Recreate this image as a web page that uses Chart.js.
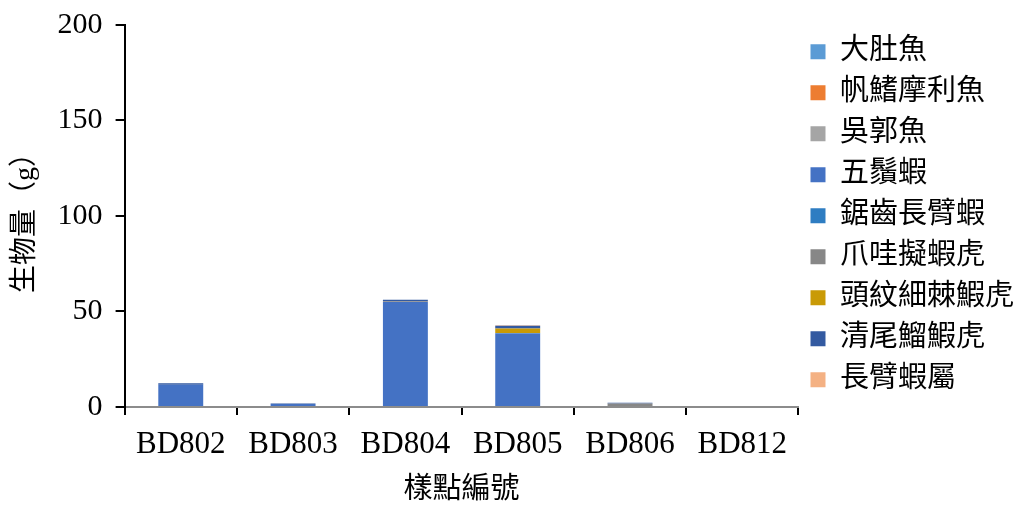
<!DOCTYPE html>
<html>
<head>
<meta charset="utf-8">
<script src="https://cdn.jsdelivr.net/npm/chart.js@4/dist/chart.umd.min.js"></script>
<style>
  html, body { margin: 0; padding: 0; background: #fff; }
  #wrap { width: 1028px; height: 506px; }
</style>
</head>
<body>
<div id="wrap"><canvas id="chart"></canvas></div>
<script>
// 樣點
const sites = ['BD802', 'BD803', 'BD804', 'BD805', 'BD806', 'BD812']

// 各物種生物量 (g)，依堆疊順序由下而上
const dadu = [0, 0, 0, 0, 0, 0]            // 大肚魚
const fanqi = [0, 0, 0, 0, 0, 0]           // 帆鰭摩利魚
const wuguo = [0, 0, 0, 0, 0, 0]           // 吳郭魚
const wuxu = [11.6, 1.5, 55.0, 38.4, 0, 0] // 五鬚蝦
const juchi = [0, 0, 0, 0.3, 0, 0]         // 鋸齒長臂蝦
const zhaowa = [0, 0, 0.3, 0, 1.8, 0]      // 爪哇擬蝦虎
const touwen = [0, 0, 0, 2.4, 0, 0]        // 頭紋細棘鰕虎
const qingwei = [0.8, 0.3, 0.8, 1.4, 0.4, 0] // 清尾鰡鰕虎
const changbi = [0, 0, 0, 0.3, 0, 0]       // 長臂蝦屬

const yTicks = [0, 50, 100, 150, 200]

const series = [
    { label: '大肚魚', data: dadu, color: '#5B9BD5' },
    { label: '帆鰭摩利魚', data: fanqi, color: '#ED7D31' },
    { label: '吳郭魚', data: wuguo, color: '#A5A5A5' },
    { label: '五鬚蝦', data: wuxu, color: '#4472C4' },
    { label: '鋸齒長臂蝦', data: juchi, color: '#2E7DC2' },
    { label: '爪哇擬蝦虎', data: zhaowa, color: '#878787' },
    { label: '頭紋細棘鰕虎', data: touwen, color: '#C99A06' },
    { label: '清尾鰡鰕虎', data: qingwei, color: '#335AA1' },
    { label: '長臂蝦屬', data: changbi, color: '#F4B183' },
]

const serif = '"Liberation Serif", "Times New Roman", serif'
const cjk = '"Liberation Serif", "Noto Sans CJK TC", serif'

const ctx = document.getElementById('chart').getContext('2d')

new Chart(ctx, {
    type: 'bar',
    data: {
        labels: sites,
        datasets: series.map((s) => ({
            label: s.label,
            data: s.data,
            backgroundColor: s.color,
            borderWidth: 0,
            barPercentage: 0.4,
            categoryPercentage: 1.0,
        })),
    },
    options: {
        responsive: true,
        maintainAspectRatio: false,
        animation: false,
        devicePixelRatio: 1,
        layout: { padding: { top: 8, right: 4, left: 9, bottom: 0 } },
        scales: {
            x: {
                stacked: true,
                border: { color: '#8c8c8c', width: 2 },
                grid: {
                    display: true,
                    drawOnChartArea: false,
                    tickLength: 8,
                    color: '#000',
                    lineWidth: 2,
                },
                ticks: { color: '#000', font: { family: serif, size: 31 }, padding: 11 },
                title: {
                    display: true,
                    text: '樣點編號',
                    color: '#000',
                    font: { family: cjk, size: 29, lineHeight: 1.1 },
                    padding: { top: 0, bottom: 0 },
                },
            },
            y: {
                stacked: true,
                min: 0,
                max: 200,
                afterBuildTicks: (axis) => {
                    axis.ticks = yTicks.map((v) => ({ value: v }))
                },
                border: { color: '#000', width: 2 },
                grid: {
                    display: true,
                    drawOnChartArea: false,
                    tickLength: 9,
                    color: '#000',
                    lineWidth: 2,
                },
                ticks: { color: '#000', font: { family: serif, size: 30, lineHeight: 0.8 }, padding: 13 },
                title: {
                    display: true,
                    text: '生物量（g）',
                    color: '#000',
                    font: { family: cjk, size: 28 },
                    padding: { top: 0, bottom: 2 },
                },
            },
        },
        plugins: {
            legend: {
                display: true,
                position: 'right',
                align: 'start',
                title: {
                    display: true,
                    text: ' ',
                    font: { size: 1 },
                    padding: { top: 0, bottom: 16 },
                },
                labels: {
                    color: '#000',
                    font: { family: cjk, size: 29 },
                    boxWidth: 15,
                    boxHeight: 15,
                    padding: 12,
                },
            },
            tooltip: { enabled: false },
        },
    },
})
</script>
</body>
</html>
